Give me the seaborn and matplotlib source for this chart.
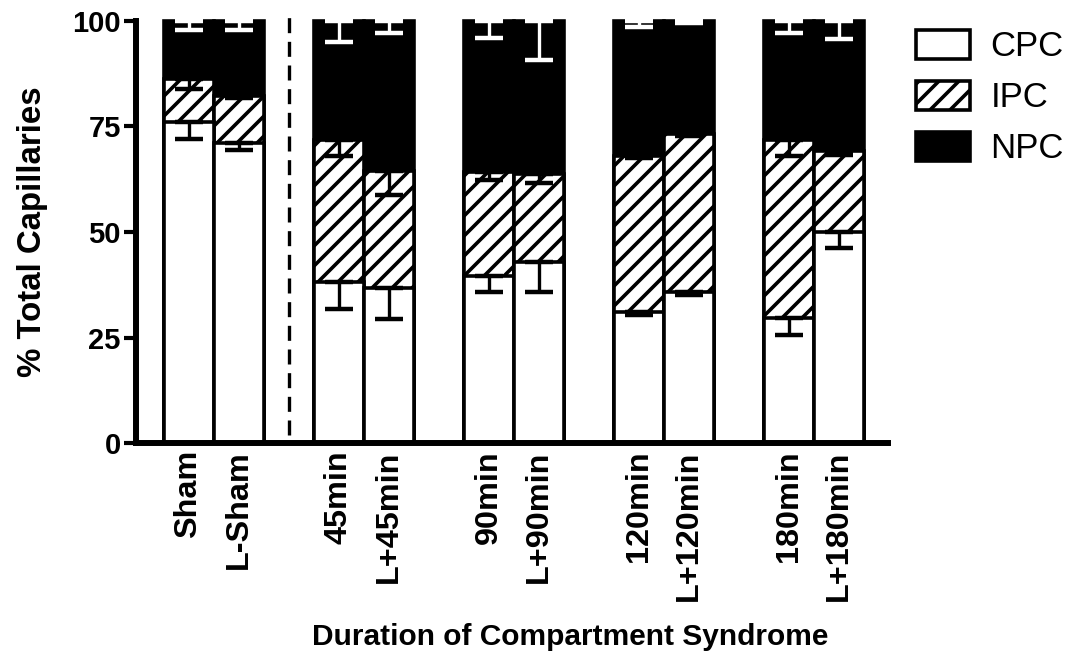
import numpy as np
import pandas as pd
import matplotlib
matplotlib.use("Agg")
import matplotlib.pyplot as plt
from matplotlib.patches import Patch
import seaborn as sns

# ---- data ----
labels = ["Sham", "L-Sham", "45min", "L+45min", "90min", "L+90min",
          "120min", "L+120min", "180min", "L+180min"]
group_sizes = [2, 2, 2, 2, 2]
cpc = [76.0, 71.0, 38.1, 36.7, 39.7, 43.0, 31.1, 35.7, 29.7, 50.1]
ipc = [10.1, 11.1, 33.7, 27.8, 24.5, 20.7, 36.8, 37.4, 42.1, 19.0]
npc = [13.9, 17.9, 28.2, 35.5, 35.8, 36.3, 32.1, 26.9, 28.2, 30.9]
cpc_err = [4.0, 1.5, 6.3, 7.3, 4.0, 7.1, 0.8, 0.6, 4.1, 3.8]
ipc_err = [2.3, 0.5, 3.8, 5.8, 1.9, 2.0, 0.4, 0.3, 3.8, 0.9]
npc_err = [2.1, 2.1, 5.1, 2.9, 4.1, 9.3, 1.4, 0.5, 2.9, 4.4]
legend_labels = ["CPC", "IPC", "NPC"]
yticks = [0, 25, 50, 75, 100]
xlabel = "Duration of Compartment Syndrome"
ylabel = "% Total Capillaries"

DPI = 120
def P(v):
    # sizes tuned as points at 100 dpi, converted for the actual dpi
    return v * 100.0 / DPI

# ---- positions from group structure (gap of one bar between groups) ----
pos = []
start = 0
for g in group_sizes:
    pos.extend(range(start, start + g))
    start += g + 1
pos = np.array(pos, dtype=float)

cpc = np.array(cpc); ipc = np.array(ipc); npc = np.array(npc)
top_cpc = cpc
top_ipc = cpc + ipc
top_npc = cpc + ipc + npc

df = pd.DataFrame({"pos": pos, "label": labels,
                   "top_cpc": top_cpc, "top_ipc": top_ipc, "top_npc": top_npc})

sns.set_theme(style="ticks")
plt.rcParams["font.family"] = ["Liberation Sans", "DejaVu Sans"]
plt.rcParams["hatch.linewidth"] = P(2.6)
plt.rcParams["hatch.color"] = "black"
for k in ["text.color", "axes.labelcolor", "xtick.color", "ytick.color",
          "axes.edgecolor"]:
    plt.rcParams[k] = "black"

fig = plt.figure(figsize=(1075 / DPI, 658 / DPI), dpi=DPI)
ax = fig.add_axes([0.1265, 0.3263, 0.826 - 0.1265, 0.9685 - 0.3263])

common = dict(x="pos", native_scale=True, width=1.0, edgecolor="black",
              linewidth=P(2.6), saturation=1, errorbar=None, ax=ax, clip_on=False)
sns.barplot(data=df, y="top_npc", color="black", **common)
sns.barplot(data=df, y="top_ipc", color="white", hatch="//", **common)
sns.barplot(data=df, y="top_cpc", color="white", **common)

# error bars (lower only)
eb = dict(fmt="none", capsize=P(10), elinewidth=P(2.4), capthick=P(3.2),
          clip_on=False)
zeros = np.zeros_like(pos)
ax.errorbar(pos, top_cpc, yerr=[cpc_err, zeros], ecolor="black", **eb)
ax.errorbar(pos, top_ipc, yerr=[ipc_err, zeros], ecolor="black", **eb)
ax.errorbar(pos, top_npc, yerr=[npc_err, zeros], ecolor="white", **eb)

# dashed separator between sham and time groups
sep_x = (pos[1] + pos[2]) / 2.0
ax.plot([sep_x, sep_x], [2, 102], color="black", lw=P(2.4),
        dashes=(4.5, 2.6), clip_on=False)

ax.set_xlim(-1.05, 13.98)
ax.set_ylim(0, 100)
ax.set_yticks(yticks)
ax.set_yticklabels([str(t) for t in yticks], fontsize=P(21), fontweight="bold")
ax.set_xticks(pos)
ax.set_xticklabels(labels, rotation=90, fontsize=P(23.3), fontweight="bold")
ax.tick_params(axis="x", length=0, pad=P(5))
ax.tick_params(axis="y", length=P(9), width=P(3), pad=P(2), color="black")
for s in ["top", "right"]:
    ax.spines[s].set_visible(False)
for s in ["left", "bottom"]:
    ax.spines[s].set_linewidth(P(4.3))
    ax.spines[s].set_color("black")
ax.set_xlabel(xlabel, fontsize=P(21.5), fontweight="bold")
ax.xaxis.set_label_coords(0.577, -0.425)
ax.set_ylabel(ylabel, fontsize=P(23.8), fontweight="bold", labelpad=P(17))

handles = [Patch(facecolor="white", edgecolor="black", linewidth=P(2.6)),
           Patch(facecolor="white", edgecolor="black", linewidth=P(2.6), hatch="//"),
           Patch(facecolor="black", edgecolor="black", linewidth=P(2.6))]
leg = fig.legend(handles, legend_labels, loc="upper left",
                 bbox_to_anchor=(0.839, 0.976), frameon=False, fontsize=P(25),
                 borderaxespad=0, handlelength=1.55, handleheight=0.92,
                 handletextpad=0.6, labelspacing=0.5)

fig.savefig("out.png", dpi=DPI)
